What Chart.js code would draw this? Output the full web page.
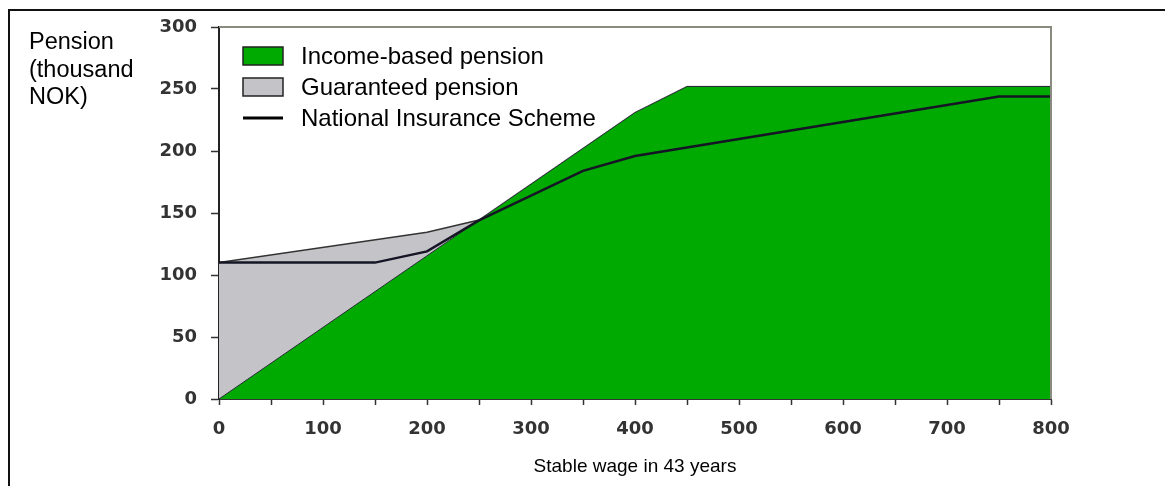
<!DOCTYPE html>
<html>
<head>
<meta charset="utf-8">
<script src="https://cdn.jsdelivr.net/npm/chart.js@4.4.1/dist/chart.umd.min.js"></script>
<style>
  html, body { margin: 0; padding: 0; background: #fff; overflow: hidden; }
  #wrap { position: relative; width: 1165px; height: 486px; }
  #frame { position: absolute; left: 8px; top: 9px; width: 1200px; height: 520px;
           border-top: 2px solid #111; border-left: 2px solid #111; pointer-events: none; }
  #ylabel { position: absolute; left: 29px; top: 28px; font-family: 'Liberation Sans', Arial, sans-serif;
            font-size: 23.5px; line-height: 27.5px; color: #000; }
  canvas { position: absolute; left: 0; top: 0; }
</style>
</head>
<body>
<div id="wrap">
  <canvas id="pension-chart" width="1165" height="486"></canvas>
  <div id="frame"></div>
  <div id="ylabel">Pension<br>(thousand<br>NOK)</div>
</div>
<script>
// wage points (thousand NOK) where the area outlines bend
const wages = [0, 200, 250, 400, 450, 800];
const incomeBased = [0, 115.5, 144.4, 231, 252, 252];
const guaranteedTop = [110, 134.5, 144.4, 231, 252, 252];

// National Insurance Scheme line
const nisWages = [0, 150, 200, 250, 350, 400, 750, 800];
const nisPension = [110, 110, 119, 144, 184, 196, 244, 244];

const seriesNames = ['Income-based pension', 'Guaranteed pension', 'National Insurance Scheme'];
const xTicks = [0, 100, 200, 300, 400, 500, 600, 700, 800];

function toPoints(xs, ys) {
    return xs.map((x, i) => ({ x: x, y: ys[i] }));
}

const legendPlugin = {
    id: 'insideLegend',
    afterDraw(chart) {
        const ctx = chart.ctx;
        const left = chart.chartArea.left + 24;
        const top = chart.chartArea.top + 29;
        const rowGap = 31;
        ctx.save();
        ctx.font = '24px "Liberation Sans", Arial, sans-serif';
        ctx.textBaseline = 'middle';
        const fills = ['#00aa00', '#c4c4c8'];
        for (let i = 0; i < 3; i++) {
            const cy = top + i * rowGap;
            if (i < 2) {
                ctx.fillStyle = fills[i];
                ctx.fillRect(left, cy - 9, 40, 18);
                ctx.lineWidth = 1.5;
                ctx.strokeStyle = '#222';
                ctx.strokeRect(left, cy - 9, 40, 18);
            } else {
                ctx.beginPath();
                ctx.lineWidth = 3;
                ctx.strokeStyle = '#000';
                ctx.moveTo(left, cy);
                ctx.lineTo(left + 40, cy);
                ctx.stroke();
            }
            ctx.fillStyle = '#000';
            ctx.fillText(seriesNames[i], left + 58, cy + 1);
        }
        ctx.restore();
    }
};

const frameplugin = {
    id: 'plotFrame',
    afterDatasetsDraw(chart) {
        const { ctx, chartArea } = chart;
        ctx.save();
        ctx.strokeStyle = '#8a8a80';
        ctx.lineWidth = 2;
        ctx.beginPath();
        ctx.moveTo(chartArea.left, chartArea.top);
        ctx.lineTo(chartArea.right, chartArea.top);
        ctx.lineTo(chartArea.right, chartArea.bottom);
        ctx.stroke();
        ctx.restore();
    }
};

const canvas = document.getElementById('pension-chart');
const tickFont = { family: '"DejaVu Sans", Verdana, sans-serif', size: 18, weight: 'bold' };

const config = {
    type: 'line',
    data: {
        datasets: [{
            label: seriesNames[2],
            data: toPoints(nisWages, nisPension),
            borderColor: '#151525',
            borderWidth: 2.5,
            pointRadius: 0,
            fill: false
        }, {
            label: seriesNames[0],
            data: toPoints(wages, incomeBased),
            borderColor: '#2a2a3a',
            borderWidth: 1,
            backgroundColor: '#00aa00',
            pointRadius: 0,
            fill: 'origin'
        }, {
            label: seriesNames[1],
            data: toPoints(wages, guaranteedTop),
            borderWidth: 1.5,
            backgroundColor: '#c4c4c8',
            segment: {
                borderColor: c => c.p0.parsed.x >= 250 ? '#a8a8a8' : '#333'
            },
            pointRadius: 0,
            fill: 1
        }]
    },
    options: {
        responsive: false,
        animation: false,
        layout: { padding: { top: 27, right: 114, left: 0, bottom: 0 } },
        plugins: {
            legend: { display: false },
            tooltip: { enabled: false }
        },
        scales: {
            x: {
                type: 'linear',
                min: 0,
                max: 800,
                afterFit: scale => { scale.height = 87; },
                afterBuildTicks: scale => {
                    scale.ticks = [];
                    for (let v = 0; v <= 800; v += 50) scale.ticks.push({ value: v });
                },
                ticks: {
                    autoSkip: false,
                    maxRotation: 0,
                    padding: 14,
                    color: '#333',
                    font: tickFont,
                    callback: v => xTicks.includes(v) ? String(v) : ''
                },
                grid: { drawOnChartArea: false, drawTicks: true, tickLength: 6, color: '#333', tickWidth: 1.5 },
                border: { color: '#333', width: 2 },
                title: {
                    display: true,
                    text: 'Stable wage in 43 years',
                    color: '#000',
                    font: { family: '"Liberation Sans", Arial, sans-serif', size: 19 },
                    padding: { top: 0, bottom: 8 }
                }
            },
            y: {
                min: 0,
                max: 300,
                afterFit: scale => { scale.width = 219; },
                ticks: {
                    stepSize: 50,
                    padding: 14,
                    color: '#333',
                    font: tickFont
                },
                grid: { drawOnChartArea: false, drawTicks: true, tickLength: 8, color: '#333', tickWidth: 1.5 },
                border: { color: '#222', width: 2 }
            }
        }
    },
    plugins: [frameplugin, legendPlugin]
};

const pensionChart = new Chart(canvas, config);
</script>
</body>
</html>
